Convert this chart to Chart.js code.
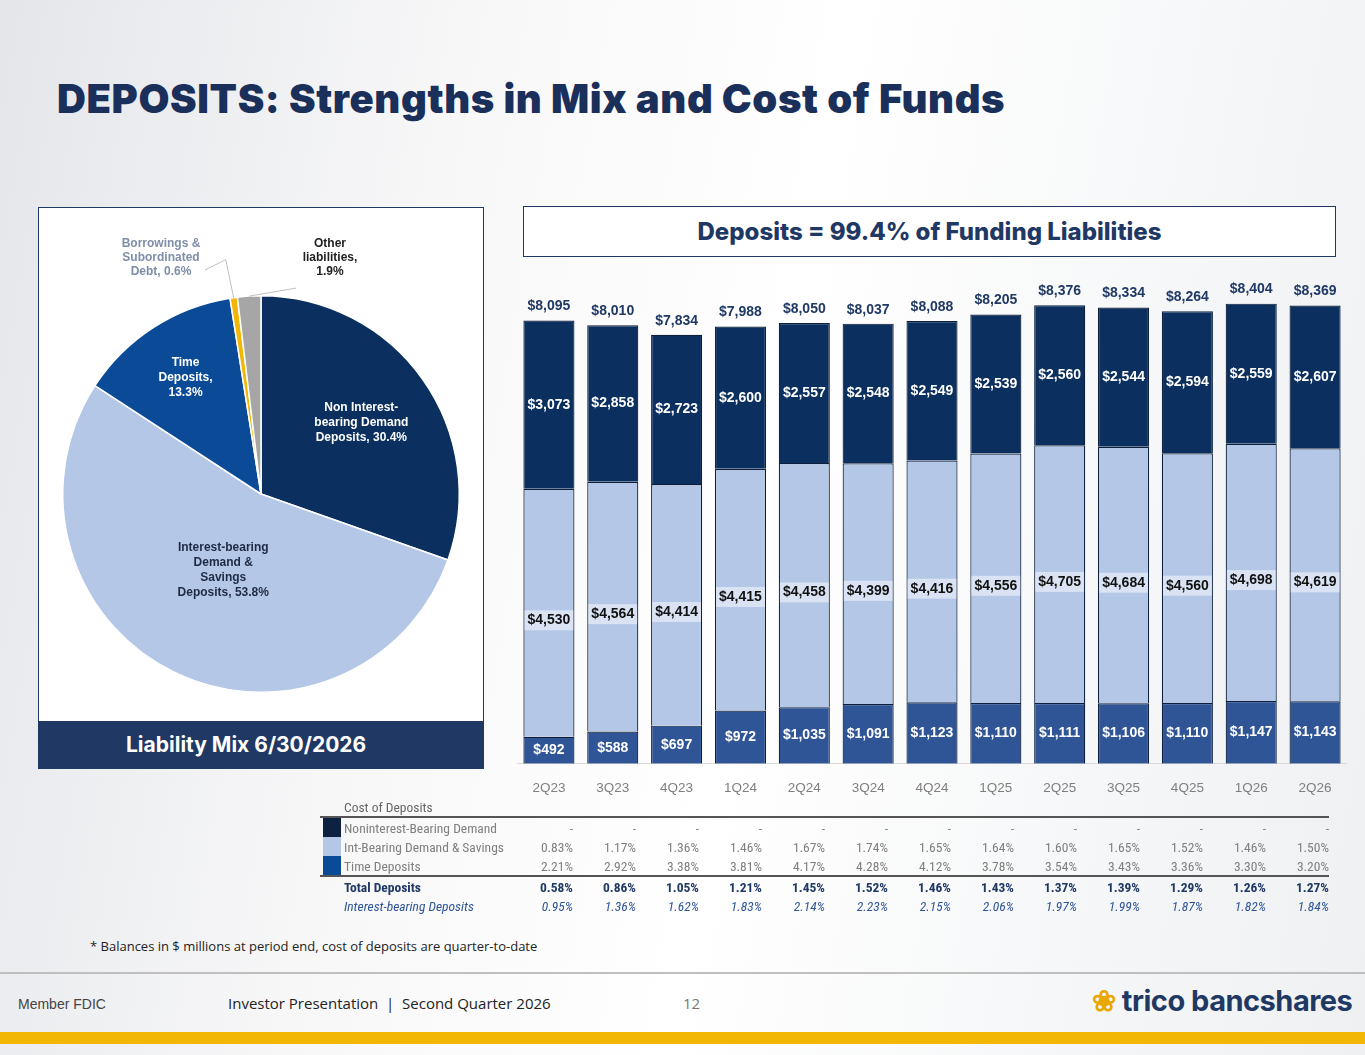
<!DOCTYPE html>
<html><head><meta charset="utf-8">
<script src="https://cdn.jsdelivr.net/npm/chart.js@4"></script>
<style>
body{margin:0;width:1365px;height:1055px;position:relative;overflow:hidden;font-family:"Open Sans",Arial,sans-serif;
background:linear-gradient(100deg,#e4e6ea 0%,#f7f7f8 30%,#ffffff 55%,#eef0f2 100%);}
.abs{position:absolute}
#title{left:57px;top:74px;font-family:Inter,"Open Sans",sans-serif;font-weight:900;font-size:40px;color:#1a2f5a;letter-spacing:0.6px;white-space:nowrap}
#pieBox{left:38px;top:207px;width:444px;height:560px;border:1px solid #1f3864;background:#fff}
#pieFoot{left:38px;top:721px;width:446px;height:47px;background:#1f3864;color:#fff;font-weight:700;font-size:21px;font-family:Inter,sans-serif;line-height:47px;text-indent:88px}
#head{left:523px;top:206px;width:811px;height:49px;border:1px solid #1f3864;background:#fff;text-align:center;line-height:49px;font-family:Inter,sans-serif;font-weight:800;font-size:24px;color:#1f3864}
#tbl{left:320px;top:797px;font-family:"Liberation Sans Narrow","Roboto Condensed",Arial,sans-serif;font-size:13.5px;color:#7f7f7f;border-collapse:collapse}
#tbl td{height:19px;padding:0;text-align:right;width:63px}
#tbl td.l{text-align:left;width:190px;padding-left:24px;box-sizing:border-box;position:relative}
.sw{position:absolute;left:3px;top:0;width:18px;height:19px}
.tot td{color:#1f3864;font-weight:bold}
.ib td{color:#2f5597;font-style:italic}
</style></head><body>
<div id="title" class="abs">DEPOSITS: Strengths in Mix and Cost of Funds</div>
<div id="pieBox" class="abs"></div>
<div class="abs" style="left:38px;top:208px;width:446px;height:512px"><canvas id="pie"></canvas></div>
<div id="pieFoot" class="abs">Liability Mix 6/30/2026</div>
<div id="head" class="abs">Deposits = 99.4% of Funding Liabilities</div>
<div class="abs" style="left:517px;top:262px;width:830px;height:542px"><canvas id="bar"></canvas></div>
<table id="tbl" class="abs"></table>
<div class="abs" style="left:90px;top:937px;font-size:13px;color:#222">* Balances in $ millions at period end, cost of deposits are quarter-to-date</div>
<div class="abs" style="left:0;top:972px;width:1365px;height:2px;background:#bfbfbf"></div>
<div class="abs" style="left:18px;top:996px;font-size:14px;color:#444;font-family:Arial">Member FDIC</div>
<div class="abs" style="left:228px;top:993px;font-size:15px;color:#222">Investor Presentation &nbsp;|&nbsp; Second Quarter 2026</div>
<div class="abs" style="left:683px;top:993px;font-size:15px;color:#777">12</div>
<div class="abs" style="left:1092px;top:983px;font-size:29px;font-weight:700;color:#1f3864;font-family:Inter,sans-serif;letter-spacing:-0.5px;white-space:nowrap"><span style="color:#e9a800">&#10048;</span> trico bancshares</div>
<div class="abs" style="left:0;top:1032px;width:1365px;height:12px;background:#f2b705"></div>
<script>
const quarters=["2Q23","3Q23","4Q23","1Q24","2Q24","3Q24","4Q24","1Q25","2Q25","3Q25","4Q25","1Q26","2Q26"];
const timeDep=[492,588,697,972,1035,1091,1123,1110,1111,1106,1110,1147,1143];
const intBearing=[4530,4564,4414,4415,4458,4399,4416,4556,4705,4684,4560,4698,4619];
const nonInt=[3073,2858,2723,2600,2557,2548,2549,2539,2560,2544,2594,2559,2607];
const totals=[8095,8010,7834,7988,8050,8037,8088,8205,8376,8334,8264,8404,8369];
const pieLabels=["Non Interest-bearing Demand Deposits","Interest-bearing Demand & Savings Deposits","Time Deposits","Borrowings & Subordinated Debt","Other liabilities"];
const pieValues=[30.4,53.8,13.3,0.6,1.9];
const costRows=[
 ["Noninterest-Bearing Demand",["-","-","-","-","-","-","-","-","-","-","-","-","-"]],
 ["Int-Bearing Demand & Savings",["0.83%","1.17%","1.36%","1.46%","1.67%","1.74%","1.65%","1.64%","1.60%","1.65%","1.52%","1.46%","1.50%"]],
 ["Time Deposits",["2.21%","2.92%","3.38%","3.81%","4.17%","4.28%","4.12%","3.78%","3.54%","3.43%","3.36%","3.30%","3.20%"]],
 ["Total Deposits",["0.58%","0.86%","1.05%","1.21%","1.45%","1.52%","1.46%","1.43%","1.37%","1.39%","1.29%","1.26%","1.27%"]],
 ["Interest-bearing Deposits",["0.95%","1.36%","1.62%","1.83%","2.14%","2.23%","2.15%","2.06%","1.97%","1.99%","1.87%","1.82%","1.84%"]]];
const fmt=v=>"$"+v.toLocaleString("en-US");

const sw=["#0d2240","#b4c7e7","#0a4a96"];
let h='<tr><td class="l" style="padding-left:24px;color:#666">Cost of Deposits</td>'+quarters.map(()=>'<td></td>').join('')+'</tr>';
costRows.forEach((r,i)=>{
 const cls=i==3?'tot':i==4?'ib':'';
 const st=i==0?'border-top:2px solid #555;':'';
 const sb=i==2?'border-bottom:2px solid #555;':'';
 h+=`<tr class="${cls}"><td class="l" style="${st}${sb}">${i<3?`<span class="sw" style="background:${sw[i]}"></span>`:''}${r[0]}</td>`+r[1].map(v=>`<td style="${st}${sb}">${v}</td>`).join('')+'</tr>';
});
document.getElementById('tbl').innerHTML=h;

const pieColors=["#0b2f5e","#b4c7e7","#0a4a96","#f2b705","#a6a6a6"];
const pieText=[["Non Interest-","bearing Demand","Deposits, 30.4%"],["Interest-bearing","Demand &","Savings","Deposits, 53.8%"],["Time","Deposits,","13.3%"],["Borrowings &","Subordinated","Debt, 0.6%"],["Other","liabilities,","1.9%"]];
const pieLbl={id:'pl',afterDatasetsDraw(c){
 const ctx=c.ctx;const m=c.getDatasetMeta(0);
 ctx.save();ctx.font='bold 12px Arial';ctx.textAlign='center';ctx.textBaseline='middle';
 const fr=[0.62,0.43,0.7];
 m.data.forEach((a,i)=>{
  const mid=(a.startAngle+a.endAngle)/2;
  if(i<3){
   const r=a.outerRadius*fr[i];const x=a.x+Math.cos(mid)*r,y=a.y+Math.sin(mid)*r;
   ctx.fillStyle=i==1?'#1f2a44':'#fff';
   const L=pieText[i];L.forEach((t,k)=>ctx.fillText(t,x,y+(k-(L.length-1)/2)*15));
  }else{
   const ex=a.x+Math.cos(mid)*a.outerRadius,ey=a.y+Math.sin(mid)*a.outerRadius;
   const tx=i==3?a.x-100:a.x+69, ty=a.y-236;
   ctx.strokeStyle='#bfbfbf';ctx.lineWidth=1;ctx.beginPath();ctx.moveTo(ex,ey);
   if(i==3){ctx.lineTo(ex-8,ey-38);ctx.lineTo(tx+44,ty+12);}else{ctx.lineTo(tx-34,ey-8);}
   ctx.stroke();
   ctx.fillStyle=i==3?'#7f8ea8':'#222';
   pieText[i].forEach((t,k)=>ctx.fillText(t,tx,ty+(k-1)*14));
  }
 });ctx.restore();}};
new Chart(document.getElementById('pie'),{type:'pie',
 data:{labels:pieLabels,datasets:[{data:pieValues,backgroundColor:pieColors,borderColor:'#fff',borderWidth:1.5}]},
 options:{responsive:true,maintainAspectRatio:false,animation:false,layout:{padding:{top:87,bottom:27}},
 plugins:{legend:{display:false},tooltip:{enabled:false}}},plugins:[pieLbl]});

const barLbl={id:'bl',afterDatasetsDraw(c){
 const ctx=c.ctx;ctx.save();ctx.textAlign='center';ctx.textBaseline='middle';
 const sets=[timeDep,intBearing,nonInt];
 sets.forEach((d,di)=>{
  const m=c.getDatasetMeta(di);
  m.data.forEach((b,j)=>{
   let y=b.y+(b.base-b.y)*(di==1?0.53:0.5);
   if(di==0) y=Math.min(y,b.base-14);
   ctx.font='bold 14px Arial';
   const t=fmt(d[j]);
   if(di==1){const w=ctx.measureText(t).width+6;ctx.fillStyle='rgba(255,255,255,0.5)';ctx.fillRect(b.x-w/2,y-10,w,20);}
   ctx.fillStyle=di==1?'#111':'#fff';ctx.fillText(t,b.x,y);
  });
 });
 const top=c.getDatasetMeta(2);
 ctx.font='bold 14px Arial';ctx.fillStyle='#1f3864';
 top.data.forEach((b,j)=>ctx.fillText(fmt(totals[j]),b.x,b.y-14));
 ctx.restore();}};
const ds=(d,col)=>({data:d,backgroundColor:col,borderColor:'#0d1f3c',borderWidth:1.2,barPercentage:0.8,categoryPercentage:1});
new Chart(document.getElementById('bar'),{type:'bar',
 data:{labels:quarters,datasets:[ds(timeDep,'#2f5597'),ds(intBearing,'#b4c7e7'),ds(nonInt,'#0b2f5e')]},
 options:{responsive:true,maintainAspectRatio:false,animation:false,layout:{padding:{top:9,left:0,right:0}},
 plugins:{legend:{display:false},tooltip:{enabled:false}},
 scales:{x:{stacked:true,grid:{display:false},border:{color:'#d9d9d9'},ticks:{color:'#7f7f7f',font:{size:13.5,family:'Arial'},padding:8}},
  y:{stacked:true,display:false,min:0,max:9000}}},plugins:[barLbl]});
</script></body></html>
